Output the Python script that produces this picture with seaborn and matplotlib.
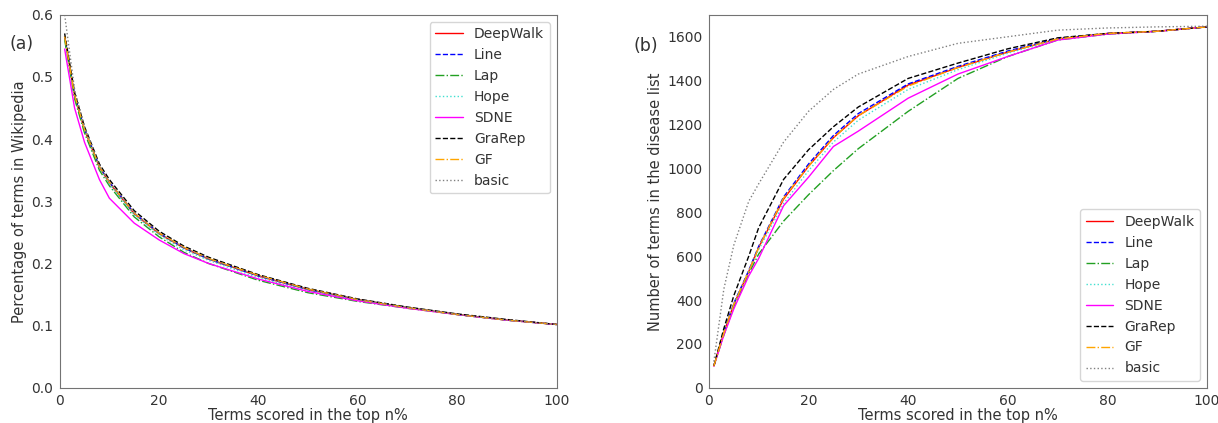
import numpy as np
import pandas as pd
import matplotlib
matplotlib.use("Agg")
import matplotlib.pyplot as plt
import seaborn as sns

top_n = [1, 3, 5, 8, 10, 15, 20, 25, 30, 40, 50, 60, 70, 80, 90, 100]

methods = ['DeepWalk', 'Line', 'Lap', 'Hope', 'SDNE', 'GraRep', 'GF', 'basic']

# (a) percentage of terms in Wikipedia
wiki_deepwalk = [0.565, 0.47, 0.415, 0.355, 0.33, 0.28, 0.248, 0.225, 0.207, 0.18, 0.158, 0.142, 0.129, 0.118, 0.109, 0.102]
wiki_line = [0.565, 0.47, 0.416, 0.356, 0.331, 0.281, 0.249, 0.225, 0.207, 0.18, 0.158, 0.142, 0.129, 0.118, 0.109, 0.102]
wiki_lap = [0.56, 0.465, 0.41, 0.35, 0.325, 0.275, 0.243, 0.218, 0.2, 0.173, 0.153, 0.139, 0.128, 0.118, 0.109, 0.102]
wiki_hope = [0.565, 0.47, 0.415, 0.355, 0.328, 0.278, 0.246, 0.222, 0.205, 0.177, 0.156, 0.141, 0.129, 0.118, 0.109, 0.102]
wiki_sdne = [0.545, 0.45, 0.395, 0.335, 0.305, 0.265, 0.238, 0.216, 0.2, 0.175, 0.155, 0.14, 0.128, 0.118, 0.109, 0.102]
wiki_grarep = [0.57, 0.475, 0.42, 0.36, 0.335, 0.285, 0.252, 0.228, 0.21, 0.182, 0.16, 0.143, 0.13, 0.119, 0.11, 0.102]
wiki_gf = [0.565, 0.471, 0.416, 0.356, 0.331, 0.281, 0.249, 0.226, 0.208, 0.181, 0.159, 0.142, 0.129, 0.118, 0.109, 0.102]
wiki_basic = [0.6, 0.48, 0.42, 0.357, 0.33, 0.28, 0.248, 0.225, 0.207, 0.18, 0.158, 0.142, 0.129, 0.118, 0.109, 0.102]

# (b) number of terms in the disease list
dis_deepwalk = [100, 250, 380, 530, 640, 860, 1010, 1140, 1240, 1380, 1460, 1530, 1590, 1615, 1625, 1645]
dis_line = [100, 255, 385, 535, 645, 870, 1020, 1150, 1250, 1385, 1465, 1535, 1592, 1615, 1625, 1645]
dis_lap = [100, 240, 370, 520, 610, 760, 880, 990, 1090, 1260, 1410, 1510, 1585, 1612, 1625, 1645]
dis_hope = [100, 250, 380, 530, 630, 840, 990, 1120, 1220, 1360, 1450, 1525, 1588, 1612, 1625, 1645]
dis_sdne = [100, 240, 360, 510, 590, 830, 960, 1100, 1170, 1320, 1430, 1510, 1585, 1612, 1625, 1645]
dis_grarep = [100, 270, 420, 600, 730, 950, 1085, 1190, 1280, 1410, 1480, 1545, 1595, 1615, 1625, 1645]
dis_gf = [100, 250, 380, 530, 640, 865, 1010, 1140, 1240, 1375, 1460, 1530, 1590, 1615, 1625, 1645]
dis_basic = [120, 450, 650, 850, 930, 1120, 1260, 1360, 1430, 1510, 1570, 1600, 1630, 1640, 1645, 1648]

wiki = [wiki_deepwalk, wiki_line, wiki_lap, wiki_hope, wiki_sdne, wiki_grarep, wiki_gf, wiki_basic]
disease = [dis_deepwalk, dis_line, dis_lap, dis_hope, dis_sdne, dis_grarep, dis_gf, dis_basic]

colors = ['red', 'blue', '#22a022', 'turquoise', 'magenta', 'black', 'orange', 'gray']
styles = ['-', '--', '-.', ':', '-', '--', '-.', ':']

sns.set_style("white")
plt.rcParams['font.family'] = ['DejaVu Sans']
plt.rcParams['axes.edgecolor'] = '0.45'
plt.rcParams['text.color'] = '0.2'
plt.rcParams['axes.labelcolor'] = '0.2'
plt.rcParams['xtick.color'] = '0.2'
plt.rcParams['ytick.color'] = '0.2'

fig = plt.figure(figsize=(12.18, 4.23), dpi=100)
ax1 = fig.add_axes([0.049, 0.083, 0.408, 0.882])
ax2 = fig.add_axes([0.582, 0.083, 0.409, 0.882])

for i, name in enumerate(methods):
    sns.lineplot(x=top_n, y=wiki[i], ax=ax1, color=colors[i], linestyle=styles[i],
                 linewidth=1, label=name)
    sns.lineplot(x=top_n, y=disease[i], ax=ax2, color=colors[i], linestyle=styles[i],
                 linewidth=1, label=name)

ax1.set_xlim(0, 100)
ax1.set_ylim(0, 0.6)
ax1.set_xlabel('Terms scored in the top n%', fontsize=10.5, labelpad=0)
ax1.set_ylabel('Percentage of terms in Wikipedia', fontsize=10.5, labelpad=3)
ax1.legend(loc='upper right', fontsize=10)
ax1.tick_params(labelsize=10, pad=1)
fig.text(0.008, 0.885, '(a)', fontsize=12.5)

ax2.set_xlim(0, 100)
ax2.set_ylim(0, 1700)
ax2.set_xlabel('Terms scored in the top n%', fontsize=10.5, labelpad=0)
ax2.set_ylabel('Number of terms in the disease list', fontsize=10.5, labelpad=3)
ax2.legend(loc='lower right', fontsize=10)
ax2.tick_params(labelsize=10, pad=1)
fig.text(0.52, 0.88, '(b)', fontsize=12.5)

fig.savefig('out.png', dpi=100)
